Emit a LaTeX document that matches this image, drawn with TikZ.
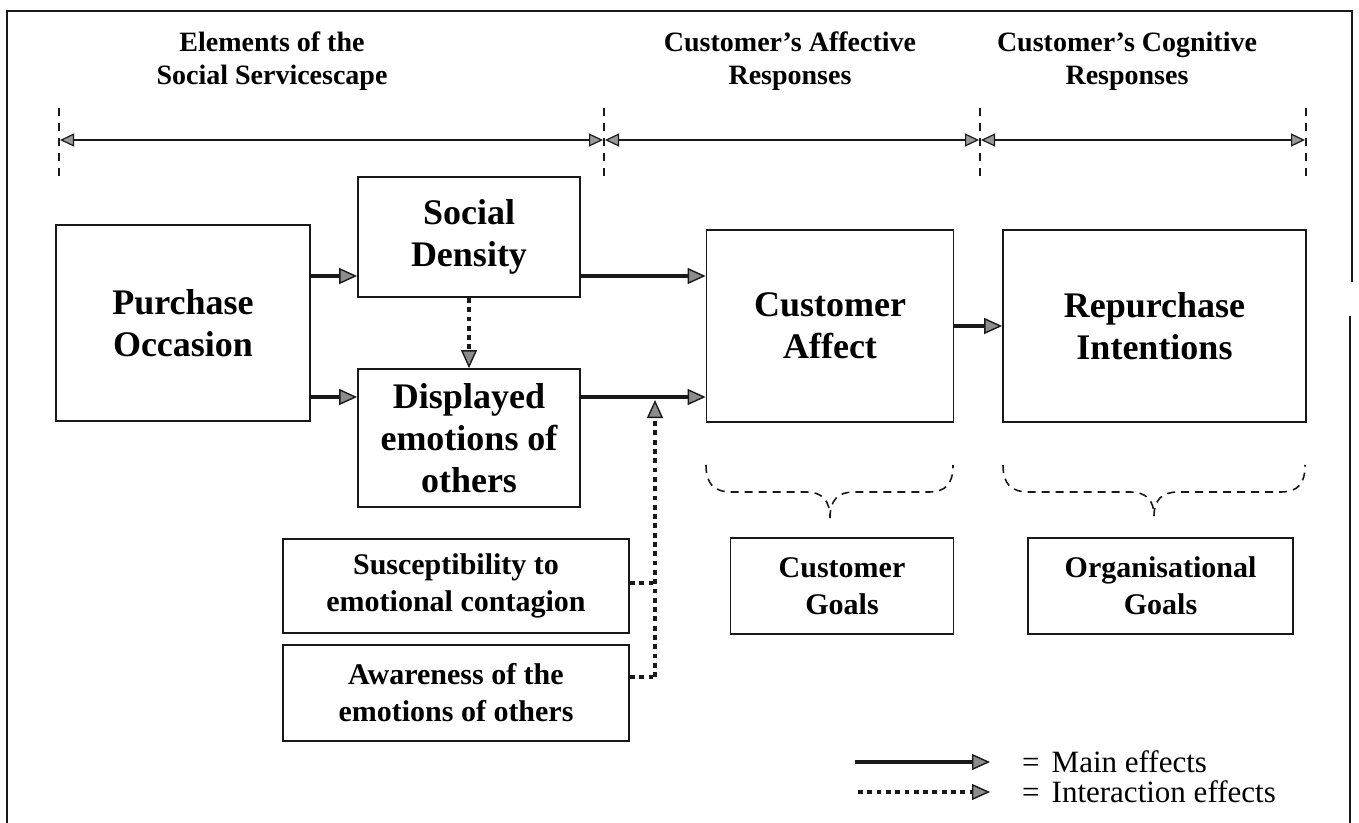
\documentclass[tikz,border=0pt]{standalone}
\usepackage{fontspec}
\setmainfont{Liberation Serif}
\usetikzlibrary{arrows.meta,calc}
\definecolor{ink}{gray}{0.1}
\begin{document}
\begin{tikzpicture}[x=1pt,y=-1pt,
  box/.style={draw=ink,line width=1.8pt,fill=white,align=center,inner sep=0pt,
    font=\bfseries\fontsize{36}{42}\selectfont},
  smallbox/.style={box,font=\bfseries\fontsize{30}{37}\selectfont},
  head/.style={align=center,inner sep=0pt,font=\bfseries\fontsize{28}{33}\selectfont},
  legtext/.style={anchor=base west,inner sep=0pt,font=\fontsize{31}{36}\selectfont},
  maineff/.style={line width=4.8pt,draw=ink,
    -{Triangle[length=18pt,width=16pt,fill=black!45,line width=1.4pt]}},
  interact/.style={line width=4.8pt,draw=ink,dash pattern=on 4.8pt off 4.5pt,
    -{Triangle[length=18pt,width=16pt,fill=black!45,line width=1.4pt]}},
  dotline/.style={line width=4.8pt,draw=ink,dash pattern=on 4.8pt off 4.5pt},
  hdrarrow/.style={line width=1.6pt,draw=ink,
    {Triangle[length=14pt,width=13pt,fill=black!40,line width=1.2pt]}-{Triangle[length=14pt,width=13pt,fill=black!40,line width=1.2pt]}},
  vdash/.style={line width=1.6pt,draw=ink,dash pattern=on 8pt off 7pt},
  brace/.style={line width=1.6pt,draw=ink,dash pattern=on 8pt off 6pt}
]
\useasboundingbox (0,0) rectangle (1359,822);

% frame
\draw[line width=1.6pt,draw=ink] (7,830) -- (7,11) -- (1352,11) -- (1352,282);
\draw[line width=1.6pt,draw=ink] (1350,316) -- (1350,830);

% header texts
\node[head] (h1) at (272,61) {Elements of the\\Social Servicescape};
\node[head] (h2) at (790,61) {Customer’s Affective\\Responses};
\node[head] (h3) at (1127,61) {Customer’s Cognitive\\Responses};

% header dashed lines and arrows
\coordinate (d1t) at (59,108);  \coordinate (d1b) at (59,176);
\coordinate (d2t) at (604,108); \coordinate (d2b) at (604,176);
\coordinate (d3t) at (980,108); \coordinate (d3b) at (980,176);
\coordinate (d4t) at (1306,108);\coordinate (d4b) at (1306,176);
\draw[vdash] (d1t) -- (d1b);
\draw[vdash] (d2t) -- (d2b);
\draw[vdash] (d3t) -- (d3b);
\draw[vdash] (d4t) -- (d4b);
\coordinate (a1) at (59,140);
\coordinate (a2) at (604,140);
\coordinate (a3) at (980,140);
\coordinate (a4) at (1306,140);
\draw[hdrarrow] ([xshift=1pt]a1) -- ([xshift=-1pt]a2);
\draw[hdrarrow] ([xshift=1pt]a2) -- ([xshift=-1pt]a3);
\draw[hdrarrow] ([xshift=1pt]a3) -- ([xshift=-1pt]a4);

% boxes
\node[box,minimum width=254pt,minimum height=196pt] (po) at (183,323) {Purchase\\Occasion};
\node[box,minimum width=222pt,minimum height=120pt] (sd) at (469,237) {Social\\Density};
\node[box,minimum width=222pt,minimum height=138pt] (de) at (469,438) {Displayed\\emotions of\\others};
\node[box,minimum width=247pt,minimum height=192pt] (ca) at (830,326) {Customer\\Affect};
\node[box,minimum width=303pt,minimum height=192pt] (ri) at (1154.5,326) {Repurchase\\Intentions};
\node[smallbox,minimum width=346pt,minimum height=94pt] (su) at (456,586) {Susceptibility to\\emotional contagion};
\node[smallbox,minimum width=346pt,minimum height=96pt] (aw) at (456,693) {Awareness of the\\emotions of others};
\node[smallbox,minimum width=223pt,minimum height=96pt] (cg) at (842,586) {Customer\\Goals};
\node[smallbox,minimum width=265pt,minimum height=96pt] (og) at (1160.5,586) {Organisational\\Goals};

% main effects
\coordinate (y1) at (0,276);
\coordinate (y2) at (0,397);
\draw[maineff] (po.east |- y1) -- (sd.west |- y1);
\draw[maineff] (po.east |- y2) -- (de.west |- y2);
\draw[maineff] (sd.east |- y1) -- (ca.west |- y1);
\draw[maineff] (de.east |- y2) -- (ca.west |- y2);
\draw[maineff] (ca.east) -- (ri.west);

% interaction effects
\draw[interact] (sd.south) -- (de.north);
\coordinate (j1) at (655,583);
\coordinate (j2) at (655,677);
\coordinate (jt) at (655,400);
\draw[dotline] (su.east |- j1) -- (j1);
\draw[dotline] (aw.east |- j2) -- (j2);
\draw[interact] (j2) -- (jt);

% braces
\draw[brace] (706,465) .. controls (706,484) and (714,492) .. (732,492) -- (806,492)
  .. controls (822,492) and (830,500) .. (830,518);
\draw[brace] (830,518) .. controls (830,500) and (838,492) .. (854,492) -- (928,492)
  .. controls (946,492) and (953,484) .. (953,465);
\draw[brace] (1003,465) .. controls (1003,484) and (1011,492) .. (1029,492) -- (1130,492)
  .. controls (1146,492) and (1154,500) .. (1154,516);
\draw[brace] (1154,516) .. controls (1154,500) and (1162,492) .. (1178,492) -- (1280,492)
  .. controls (1298,492) and (1305,484) .. (1305,465);

% legend
\coordinate (l1a) at (855,762); \coordinate (l1b) at (990,762);
\coordinate (l2a) at (858,792); \coordinate (l2b) at (990,792);
\draw[maineff] (l1a) -- (l1b);
\draw[interact] (l2a) -- (l2b);
\node[legtext] (lt1) at (1022,772) {=\hspace{12pt}Main effects};
\node[legtext] (lt2) at (1022,802) {=\hspace{12pt}Interaction effects};
\end{tikzpicture}
\end{document}
